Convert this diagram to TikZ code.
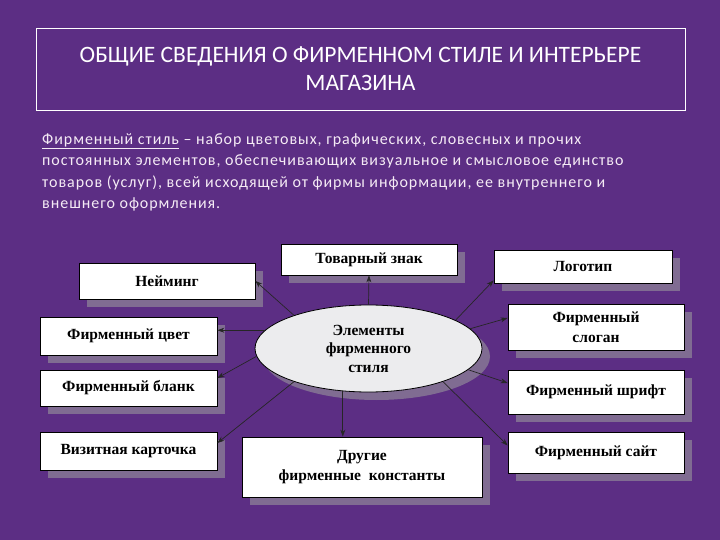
\documentclass[tikz,border=0pt]{standalone}
\usepackage{fontspec}
\setmainfont{Liberation Serif}
\newfontfamily\titlefont{Carlito}
\newfontfamily\bodyfont[LetterSpace=6]{Carlito}
\usepackage{xcolor}
\usepackage{tikz}
\usetikzlibrary{shapes.geometric, arrows.meta, positioning, calc, shadows}
\definecolor{bgpurple}{RGB}{92,46,132}
\definecolor{shadowgray}{RGB}{128,108,146}
\definecolor{ovalgray}{RGB}{236,236,238}

\begin{document}
\begin{tikzpicture}[x=1pt, y=-1pt,
    elem/.style={draw=black, fill=white, line width=0.8pt, inner sep=2pt, align=center,
        font=\fontsize{15.5}{19.5}\selectfont\bfseries,
        drop shadow={shadow xshift=8pt, shadow yshift=-8pt, fill=shadowgray, opacity=1}},
    core/.style={ellipse, draw=black, fill=ovalgray, line width=0.8pt, minimum width=227pt, minimum height=87pt,
        inner sep=0pt, align=center, font=\fontsize{15.5}{18.5}\selectfont\bfseries,
        drop shadow={shadow xshift=8pt, shadow yshift=-8pt, fill=shadowgray, opacity=1}},
    link/.style={draw=black!85, line width=0.7pt, -{Stealth[length=7pt, width=5pt]}},
]
    \fill[bgpurple] (0,0) rectangle (720,540);

    \node[draw=white, line width=0.8pt, minimum width=649pt, minimum height=82pt, align=center,
        text=white, font=\titlefont\fontsize{23.5}{28}\selectfont] (title) at (360.5, 69)
        {ОБЩИЕ СВЕДЕНИЯ О ФИРМЕННОМ СТИЛЕ И ИНТЕРЬЕРЕ\\МАГАЗИНА};

    \node[anchor=north west, align=left, text=white!92!violet, inner sep=0pt,
        font=\bodyfont\fontsize{16}{21.5}\selectfont] (definition) at (42, 133)
        {\underline{Фирменный стиль} – набор цветовых, графических, словесных и прочих\\
         постоянных элементов, обеспечивающих визуальное и смысловое единство\\
         товаров (услуг), всей исходящей от фирмы информации, ее внутреннего и\\
         внешнего оформления.};

    \node[core] (styleset) at (368.5, 348.5) {Элементы\\фирменного\\стиля};

    \node[elem, minimum width=176pt, minimum height=31pt] (trademark) at (369, 259.5) {Товарный знак};
    \node[elem, minimum width=176pt, minimum height=36pt] (naming) at (167, 281) {Нейминг};
    \node[elem, minimum width=177pt, minimum height=38pt] (colour) at (128.5, 336) {Фирменный цвет};
    \node[elem, minimum width=177pt, minimum height=36pt] (blank) at (128.5, 388) {Фирменный бланк};
    \node[elem, minimum width=177pt, minimum height=38pt] (card) at (128.5, 451) {Визитная карточка};
    \node[elem, minimum width=240pt, minimum height=60pt] (others) at (362, 467) {Другие\\фирменные\ \ константы};
    \node[elem, minimum width=178pt, minimum height=33pt] (logo) at (583, 266.5) {Логотип};
    \node[elem, minimum width=176pt, minimum height=46pt] (slogan) at (596, 327) {Фирменный\\слоган};
    \node[elem, minimum width=176pt, minimum height=44pt] (typeface) at (596, 392) {Фирменный шрифт};
    \node[elem, minimum width=176pt, minimum height=41pt] (website) at (596, 452.5) {Фирменный сайт};

    \draw[link] (styleset.north) -- (trademark.south);
    \draw[link] (styleset.156) -- (naming.east);
    \draw[link] (styleset.170) -- (styleset.170 -| colour.east);
    \draw[link] (styleset.184) -- ([yshift=10pt]blank.east);
    \draw[link] (styleset.204) -- ([yshift=8pt]card.east);
    \draw[link] (styleset.239) -- (styleset.239 |- others.north);
    \draw[link] (styleset.18) -- ([yshift=3pt]logo.south west);
    \draw[link] (styleset.11) -- ([yshift=9pt]slogan.west);
    \draw[link] (styleset.348) -- ([yshift=9pt]typeface.west);
    \draw[link] (styleset.336) -- ([yshift=7pt]website.west);
\end{tikzpicture}
\end{document}
